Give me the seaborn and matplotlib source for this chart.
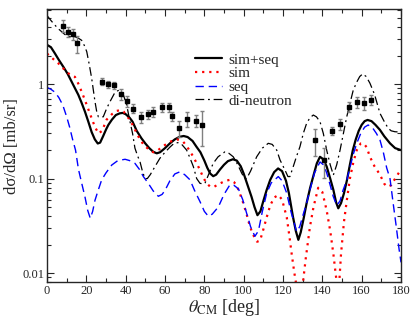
import numpy as np
import matplotlib
matplotlib.use("Agg")
import matplotlib.pyplot as plt
import seaborn as sns
from matplotlib.ticker import MultipleLocator, LogLocator, NullFormatter, FixedLocator, FixedFormatter

# sim+seq (solid black)
ang_tot = [0, 2, 4, 6, 8.3, 10.5, 12.5, 14, 15.9, 17.5, 19.3, 21, 22.7, 24.3, 25.8, 27, 28.5, 30, 31.2, 33,
           35, 37, 38.5, 40, 42, 43.5, 45.6, 48, 50, 52, 54, 55.8, 57.5, 60, 62.5, 65, 67.5, 69.5, 71.5, 74,
           76, 78, 80, 81.5, 83, 84.5, 86, 88, 90, 92, 94.5, 96.5, 98.5, 100, 102, 104, 105.5, 107, 108.5, 110,
           111.7, 113.5, 115.5, 117.5, 119.5, 121.5, 123, 125, 126.5, 127.8, 129, 130.5, 132, 133.8, 135.5,
           137.2, 138.8, 140.5, 142.2, 144, 145.6, 147, 148.1, 149.5, 151, 152.5, 154, 155.5, 157, 158.5, 160,
           161.5, 163, 165, 167, 169.3, 171.5, 174.4, 177, 180]
xs_tot = [2.6, 2.45, 2.11, 1.8, 1.52, 1.28, 1.06, 0.92, 0.77, 0.64, 0.51, 0.40, 0.31, 0.26, 0.235, 0.24, 0.28,
          0.33, 0.37, 0.42, 0.47, 0.49, 0.495, 0.48, 0.44, 0.40, 0.32, 0.267, 0.235, 0.21, 0.192, 0.185, 0.19,
          0.21, 0.236, 0.26, 0.277, 0.282, 0.275, 0.25, 0.217, 0.19, 0.155, 0.13, 0.113, 0.106, 0.11, 0.125,
          0.14, 0.153, 0.16, 0.155, 0.135, 0.113, 0.085, 0.064, 0.05, 0.041, 0.045, 0.058, 0.076, 0.097, 0.117,
          0.128, 0.12, 0.095, 0.07, 0.04, 0.028, 0.0225, 0.027, 0.038, 0.055, 0.08, 0.108, 0.145, 0.17, 0.16,
          0.134, 0.1, 0.076, 0.056, 0.0485, 0.055, 0.07, 0.096, 0.14, 0.2, 0.26, 0.32, 0.37, 0.405, 0.417,
          0.405, 0.37, 0.327, 0.28, 0.236, 0.21, 0.2]

# sim (red dotted)
ang_sim = [0, 3, 5.7, 8, 10.8, 12.5, 14.2, 16, 17.6, 19, 20.2, 22.7, 24.4, 26.2, 28, 30.3, 33, 35.4, 37.5, 39,
           41, 43.9, 45.6, 47.5, 49, 51, 54, 56.5, 59, 62.5, 66, 69.3, 72, 74.4, 76.1, 77.8, 79.5, 81.2, 83, 85,
           88, 91, 93, 95, 96.4, 98, 99.8, 101.5, 103.2, 105, 106.8, 108.3, 110, 111.7, 113.5, 115.5, 117.6,
           119.5, 121.9, 123.2, 124.4, 125.5, 126.3, 127.5, 128.5, 130.3, 131.5, 133.7, 135.5, 137.9, 140,
           142.2, 144, 145.6, 146.5, 147.3, 148, 149.5, 151, 152.5, 154, 155.8, 157.5, 159.5, 161, 162.5, 164.2,
           166.5, 169.3, 171.5, 173, 175, 177, 180]
xs_sim = [2.1, 1.85, 1.66, 1.48, 1.3, 1.24, 1.19, 1.0, 0.83, 0.7, 0.6, 0.434, 0.35, 0.3, 0.32, 0.42, 0.48,
          0.52, 0.53, 0.51, 0.45, 0.36, 0.3, 0.255, 0.23, 0.21, 0.19, 0.2, 0.22, 0.245, 0.26, 0.245, 0.205,
          0.17, 0.145, 0.123, 0.102, 0.089, 0.082, 0.082, 0.089, 0.095, 0.097, 0.092, 0.085, 0.07, 0.055,
          0.042, 0.031, 0.025, 0.0215, 0.022, 0.029, 0.039, 0.052, 0.063, 0.067, 0.06, 0.039, 0.025, 0.016,
          0.011, 0.0085, 0.0065, 0.005, 0.0085, 0.014, 0.031, 0.05, 0.08, 0.072, 0.046, 0.028, 0.016, 0.011,
          0.008, 0.005, 0.016, 0.035, 0.06, 0.1, 0.15, 0.2, 0.235, 0.235, 0.215, 0.17, 0.135, 0.11, 0.088,
          0.082, 0.085, 0.1, 0.125]

# seq (blue dashed)
ang_seq = [0, 2, 4, 6, 8, 10, 11.5, 13, 14.5, 16, 17.6, 19.3, 20.7, 22, 23.2, 24.4, 26, 27.8, 30, 32.9, 36,
           39.7, 42, 44.7, 47, 49, 51.5, 54, 56.6, 58.5, 60, 62.5, 65, 67.6, 70, 72.7, 75, 77.8, 80, 82, 84,
           87.1, 90, 93, 95, 97.3, 99.5, 101.5, 103.5, 105.7, 107.5, 109.5, 111.7, 114, 117.6, 119.5, 121.9,
           124, 126.9, 128.5, 130, 132, 134, 136, 138.8, 140.5, 142.2, 144, 145.5, 147.3, 149, 150.5, 152.4,
           154, 155.7, 157.5, 159.5, 161.5, 163.3, 165.5, 167.5, 169.3, 171, 172.7, 174.4, 176, 177.5, 179, 180]
xs_seq = [0.92, 0.88, 0.82, 0.72, 0.6, 0.45, 0.35, 0.26, 0.2, 0.125, 0.09, 0.064, 0.046, 0.038, 0.045, 0.059,
          0.075, 0.097, 0.115, 0.139, 0.155, 0.16, 0.155, 0.145, 0.125, 0.105, 0.089, 0.074, 0.065, 0.068,
          0.075, 0.095, 0.112, 0.118, 0.11, 0.097, 0.075, 0.057, 0.045, 0.04, 0.042, 0.05, 0.068, 0.086,
          0.085, 0.078, 0.06, 0.043, 0.031, 0.0245, 0.028, 0.045, 0.07, 0.09, 0.105, 0.095, 0.07, 0.045,
          0.0275, 0.031, 0.04, 0.055, 0.08, 0.115, 0.15, 0.14, 0.115, 0.085, 0.065, 0.052, 0.058, 0.075,
          0.096, 0.13, 0.18, 0.236, 0.3, 0.35, 0.369, 0.345, 0.3, 0.256, 0.19, 0.13, 0.1, 0.055, 0.032,
          0.018, 0.013]

# di-neutron (dash-dot)
ang_dn = [0, 2, 4, 6, 7.5, 9, 10.8, 12.5, 14.5, 16, 17.6, 19, 20.2, 21.5, 22.7, 23.6, 24.4, 25.2, 26.1, 28.6,
          30.3, 32, 34.6, 36.5, 37.5, 39, 40.5, 42.2, 43.5, 44.7, 46, 47.3, 48.5, 49.8, 51, 52.5, 54.9, 57.4,
          60, 62.5, 64.5, 66.5, 68.5, 71, 72.7, 74.4, 76.1, 77.8, 79.5, 80.3, 82.5, 84.5, 87, 90.5, 92.5, 94.7,
          97, 99, 100.5, 101.5, 103.5, 106.6, 109.5, 112.5, 114.5, 116.8, 118.5, 121, 122.5, 123.5, 125, 126.8,
          128.6, 130.3, 132, 133.7, 135.4, 137, 138.8, 140.5, 142.2, 144, 145.6, 147.3, 149, 150.7, 152.4, 154,
          155.7, 157.5, 159, 160.5, 162.3, 164.2, 166.5, 169.3, 171.5, 173.5, 175, 176.9, 180]
xs_dn = [5.3, 4.7, 4.2, 3.8, 3.57, 3.35, 3.2, 3.15, 3.15, 3.05, 2.9, 2.55, 2.2, 1.6, 1.15, 0.85, 0.65, 0.52,
         0.45, 0.45, 0.55, 0.65, 0.82, 0.86, 0.85, 0.75, 0.6, 0.4, 0.3, 0.21, 0.175, 0.15, 0.12, 0.1, 0.1, 0.11,
         0.134, 0.164, 0.19, 0.215, 0.235, 0.24, 0.23, 0.2, 0.165, 0.134, 0.1, 0.089, 0.088, 0.089, 0.115,
         0.145, 0.17, 0.192, 0.185, 0.17, 0.14, 0.114, 0.1, 0.1, 0.12, 0.17, 0.21, 0.236, 0.23, 0.2, 0.157,
         0.123, 0.105, 0.105, 0.13, 0.17, 0.217, 0.3, 0.384, 0.44, 0.47, 0.45, 0.4, 0.3, 0.2, 0.14, 0.109,
         0.14, 0.2, 0.3, 0.45, 0.62, 0.86, 1.05, 1.2, 1.28, 1.2, 1.02, 0.78, 0.49, 0.4, 0.34, 0.32, 0.313, 0.31]

# experimental points
exp_ang = [8, 10.5, 13.1, 15.4, 27.8, 30.8, 34.2, 37.5, 40.8, 43.9, 47.8, 51.5, 54, 58.6, 62, 63.7, 67.1, 71,
           75.6, 78.6, 136.2, 140.7, 144.9, 149.1, 153.4, 157.6, 161.3, 164.9]
exp_xs = [4.14, 3.57, 3.35, 2.69, 1.06, 0.99, 0.975, 0.78, 0.66, 0.55, 0.45, 0.48, 0.51, 0.57, 0.57, 0.46, 0.34,
          0.43, 0.41, 0.37, 0.255, 0.157, 0.32, 0.38, 0.57, 0.645, 0.625, 0.68]
exp_err = [0.6, 0.46, 0.43, 0.55, 0.09, 0.08, 0.08, 0.1, 0.09, 0.06, 0.06, 0.05, 0.065, 0.06, 0.06, 0.05, 0.065,
           0.08, 0.055, 0.15, 0.08, 0.055, 0.03, 0.05, 0.07, 0.09, 0.1, 0.08]

sns.set_style("ticks")
plt.rcParams['font.family'] = ['Liberation Serif', 'DejaVu Serif']
plt.rcParams['mathtext.fontset'] = 'stix'

fig = plt.figure(figsize=(4.15, 3.21), dpi=100)
ax = fig.add_axes([0.1133, 0.1206, 0.853, 0.851])

sns.lineplot(x=ang_tot, y=xs_tot, ax=ax, color='black', lw=1.6, label='sim+seq')
sns.lineplot(x=ang_sim, y=xs_sim, ax=ax, color='red', lw=1.6, linestyle=(0, (1, 2.2)), label='sim')
sns.lineplot(x=ang_seq, y=xs_seq, ax=ax, color='blue', lw=1.0, linestyle=(0, (6, 3.5)), label='seq')
sns.lineplot(x=ang_dn, y=xs_dn, ax=ax, color='black', lw=0.9, linestyle=(0, (7, 3, 1.5, 3)), label='di-neutron')

ax.errorbar(exp_ang, exp_xs, yerr=exp_err, fmt='s', color='black', ecolor='gray', ms=3.2,
            elinewidth=1, capsize=1.5, capthick=1, zorder=5)

ax.set_yscale('log')
ax.set_xlim(0, 180)
ax.set_ylim(0.008, 6.2)
ax.xaxis.set_major_locator(MultipleLocator(20))
ax.xaxis.set_minor_locator(MultipleLocator(10))
ax.yaxis.set_major_locator(FixedLocator([0.01, 0.1, 1]))
ax.yaxis.set_major_formatter(FixedFormatter(['0.01', '0.1', '1']))
ax.yaxis.set_minor_locator(LogLocator(base=10, subs=np.arange(2, 10)))
ax.yaxis.set_minor_formatter(NullFormatter())
ax.tick_params(which='both', direction='in', top=True, right=True, labelsize=9, pad=2)
ax.tick_params(which='major', length=5, width=0.8)
ax.tick_params(which='minor', length=3, width=0.8)
for s in ax.spines.values():
    s.set_linewidth(1.0)

ax.set_xlabel(r'$\theta_{\mathrm{CM}}$ [deg]', fontsize=13)
ax.set_ylabel('dσ/dΩ [mb/sr]', fontsize=12)
ax.xaxis.set_label_coords(0.5, -0.055)
ax.yaxis.set_label_coords(-0.075, 0.5)

ax.legend(loc='upper left', bbox_to_anchor=(0.418, 0.84), frameon=False, fontsize=11,
          handlelength=1.8, handletextpad=0.4, labelspacing=0.0, borderpad=0, borderaxespad=0)

fig.savefig('out.png', dpi=100)
